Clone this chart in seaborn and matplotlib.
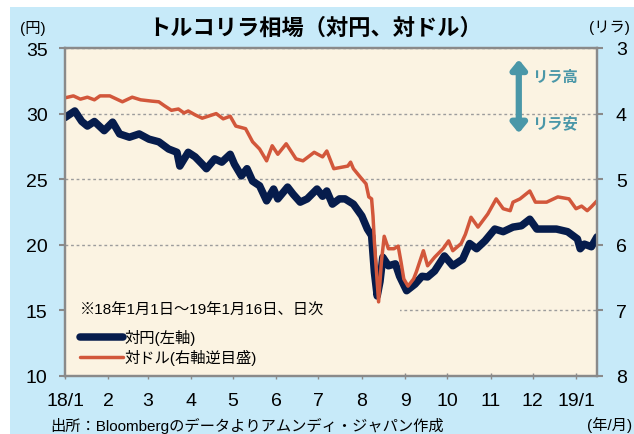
import matplotlib
matplotlib.use("Agg")
import matplotlib.pyplot as plt
from matplotlib.patches import Rectangle
from matplotlib.lines import Line2D
import pandas as pd
import seaborn as sns

# TRY/JPY (left axis)
jpy_dates = [
    "2018-01-01", "2018-01-08", "2018-01-13", "2018-01-17", "2018-01-22", "2018-01-29",
    "2018-02-04", "2018-02-09", "2018-02-16", "2018-02-23", "2018-03-02", "2018-03-09",
    "2018-03-16", "2018-03-22", "2018-03-24", "2018-03-30", "2018-04-04", "2018-04-09",
    "2018-04-12", "2018-04-18", "2018-04-23", "2018-04-29", "2018-05-02", "2018-05-07",
    "2018-05-11", "2018-05-15", "2018-05-20", "2018-05-25", "2018-05-30", "2018-06-02",
    "2018-06-09", "2018-06-13", "2018-06-18", "2018-06-23", "2018-06-30", "2018-07-04",
    "2018-07-07", "2018-07-11", "2018-07-16", "2018-07-20", "2018-07-26", "2018-08-01",
    "2018-08-05", "2018-08-08", "2018-08-10", "2018-08-12", "2018-08-14", "2018-08-16",
    "2018-08-20", "2018-08-25", "2018-08-28", "2018-09-02", "2018-09-08", "2018-09-13",
    "2018-09-17", "2018-09-22", "2018-09-29", "2018-10-05", "2018-10-12", "2018-10-17",
    "2018-10-22", "2018-10-28", "2018-11-04", "2018-11-10", "2018-11-17", "2018-11-23",
    "2018-11-29", "2018-12-04", "2018-12-11", "2018-12-18", "2018-12-26", "2019-01-02",
    "2019-01-04", "2019-01-07", "2019-01-12", "2019-01-16",
]
jpy_values = [
    29.7, 30.2, 29.4, 29.05, 29.4, 28.7,
    29.35, 28.45, 28.2, 28.45, 28.05, 27.85,
    27.3, 27.05, 26.0, 27.05, 26.7, 26.15,
    25.8, 26.55, 26.3, 26.9, 26.15, 25.25,
    25.8, 24.85, 24.5, 23.35, 24.25, 23.5,
    24.4, 23.85, 23.25, 23.5, 24.25, 23.7,
    24.1, 23.1, 23.5, 23.5, 23.1, 22.2,
    21.2, 20.7, 17.9, 16.1, 17.2, 19.05,
    18.4, 18.55, 17.6, 16.5, 17.0, 17.6,
    17.55, 18.0, 19.15, 18.4, 18.9, 20.1,
    19.7, 20.3, 21.2, 21.0, 21.35, 21.45,
    21.95, 21.2, 21.2, 21.2, 21.0, 20.45,
    19.7, 20.05, 19.85, 20.6,
]

# USD/TRY (right axis, inverted)
usd_dates = [
    "2018-01-01", "2018-01-07", "2018-01-12", "2018-01-17", "2018-01-22", "2018-01-26",
    "2018-02-02", "2018-02-08", "2018-02-11", "2018-02-18", "2018-02-24", "2018-03-04",
    "2018-03-09", "2018-03-13", "2018-03-18", "2018-03-23", "2018-03-27", "2018-03-30",
    "2018-04-04", "2018-04-09", "2018-04-19", "2018-04-24", "2018-04-29", "2018-05-03",
    "2018-05-10", "2018-05-15", "2018-05-20", "2018-05-25", "2018-05-29", "2018-06-02",
    "2018-06-08", "2018-06-15", "2018-06-20", "2018-06-28", "2018-07-04", "2018-07-07",
    "2018-07-12", "2018-07-22", "2018-07-24", "2018-07-26", "2018-07-31", "2018-08-04",
    "2018-08-06", "2018-08-08", "2018-08-09", "2018-08-10", "2018-08-13", "2018-08-15",
    "2018-08-17", "2018-08-20", "2018-08-24", "2018-08-27", "2018-08-29", "2018-08-31",
    "2018-09-03", "2018-09-07", "2018-09-09", "2018-09-14", "2018-09-17", "2018-09-22",
    "2018-09-28", "2018-10-02", "2018-10-05", "2018-10-11", "2018-10-14", "2018-10-18",
    "2018-10-23", "2018-10-30", "2018-11-05", "2018-11-10", "2018-11-15", "2018-11-17",
    "2018-11-22", "2018-11-29", "2018-12-03", "2018-12-11", "2018-12-19", "2018-12-27",
    "2019-01-01", "2019-01-05", "2019-01-09", "2019-01-12", "2019-01-16",
]
usd_values = [
    3.76, 3.73, 3.78, 3.75, 3.79, 3.73,
    3.73, 3.79, 3.82, 3.75, 3.79, 3.81,
    3.82, 3.88, 3.95, 3.93, 3.99, 3.96,
    4.02, 4.07, 4.00, 4.08, 4.04, 4.19,
    4.23, 4.43, 4.54, 4.72, 4.49, 4.62,
    4.46, 4.69, 4.72, 4.59, 4.66, 4.57,
    4.84, 4.80, 4.74, 4.84, 4.97, 5.07,
    5.27, 5.30, 5.56, 5.96, 6.87, 6.26,
    5.87, 6.06, 6.06, 6.02, 6.26, 6.52,
    6.63, 6.52, 6.41, 6.09, 6.32, 6.19,
    6.06, 5.94, 6.09, 5.98, 5.84, 5.58,
    5.73, 5.53, 5.30, 5.45, 5.48, 5.35,
    5.30, 5.18, 5.35, 5.35, 5.27, 5.30,
    5.45, 5.41, 5.48, 5.42, 5.33,
]

month_ticks = pd.date_range("2018-01-01", "2019-01-01", freq="MS")
month_labels = ["18/1", "2", "3", "4", "5", "6", "7", "8", "9", "10", "11", "12", "19/1"]

NAVY = "#061C4C"
RED = "#D2573B"
TEAL = "#4A97A8"
CREAM = "#FBF3E2"
SKY = "#C7EAF9"

sns.set_style("white")
plt.rcParams["font.family"] = ["Liberation Sans", "Noto Sans CJK JP"]
plt.rcParams["text.color"] = "black"
plt.rcParams["xtick.color"] = "black"
plt.rcParams["ytick.color"] = "black"

jpy = pd.DataFrame({"date": pd.to_datetime(jpy_dates), "value": jpy_values})
usd = pd.DataFrame({"date": pd.to_datetime(usd_dates), "value": usd_values})

fig = plt.figure(figsize=(6.34, 4.35), dpi=100, facecolor="white")
fig.patches.append(Rectangle((10 / 634, 0), 1, 427 / 435, transform=fig.transFigure,
                             facecolor=SKY, edgecolor="none", zorder=-5))
ax = fig.add_axes([65 / 634, 58 / 435, 532 / 634, 328 / 435])
ax.set_facecolor(CREAM)

sns.lineplot(data=jpy, x="date", y="value", ax=ax, color=NAVY, lw=5.4,
             solid_capstyle="round", solid_joinstyle="round", zorder=3)
ax.set_ylim(10, 35)
ax.set_yticks([10, 15, 20, 25, 30, 35])
ax.set_xlim(pd.Timestamp("2018-01-01"), pd.Timestamp("2019-01-16"))
ax.set_xticks(month_ticks)
ax.set_xticklabels(month_labels)
ax.set_xlabel("")
ax.set_ylabel("")
ax.yaxis.grid(True, ls=(0, (2, 2)), color="#9C9C9C", lw=1)
ax.xaxis.grid(False)
ax.set_axisbelow(True)

# box behind the legend hides the gridline
ax.add_patch(Rectangle((0, 0), 0.63, 0.225, transform=ax.transAxes,
                       facecolor=CREAM, edgecolor="none", zorder=1))

ax2 = ax.twinx()
sns.lineplot(data=usd, x="date", y="value", ax=ax2, color=RED, lw=2.5,
             solid_joinstyle="round")
ax2.set_ylim(8, 3)
ax2.set_yticks([3, 4, 5, 6, 7, 8])
ax2.set_ylabel("")
ax2.grid(False)

for a in (ax, ax2):
    for sp in a.spines.values():
        sp.set_color("#8A8A8A")
        sp.set_linewidth(1.6)
ax.tick_params(axis="y", direction="out", length=4.5, width=1.5, color="#8A8A8A",
               labelcolor="black", labelsize=14, pad=8, left=True)
ax.tick_params(axis="x", direction="inout", length=5, width=1, color="#8A8A8A",
               labelcolor="black", labelsize=14, pad=9, bottom=True)
ax2.tick_params(axis="y", direction="out", length=4.5, width=1.5, color="#8A8A8A",
                labelcolor="black", labelsize=14, pad=9, right=True)

# arrow showing the lira direction
ax2.annotate("", xy=(0.853, 0.965), xytext=(0.853, 0.74), xycoords="axes fraction",
             arrowprops=dict(arrowstyle="<|-|>,head_length=0.55,head_width=0.45",
                             color=TEAL, lw=4.5, shrinkA=0, shrinkB=0))
ax2.text(0.878, 0.915, "リラ高", transform=ax2.transAxes, color=TEAL,
         fontsize=11, fontweight="bold", va="center", family="Noto Sans CJK JP")
ax2.text(0.878, 0.775, "リラ安", transform=ax2.transAxes, color=TEAL,
         fontsize=11, fontweight="bold", va="center", family="Noto Sans CJK JP")

handles = [Line2D([], [], color=NAVY, lw=5.4, solid_capstyle="round"),
           Line2D([], [], color=RED, lw=2.5)]
leg = ax2.legend(handles, ["対円(左軸)", "対ドル(右軸逆目盛)"],
                 title="※18年1月1日～19年1月16日、日次", loc="lower left",
                 bbox_to_anchor=(0.008, 0.0), frameon=False, fontsize=11,
                 title_fontsize=11, handlelength=2.8, handletextpad=0.1,
                 labelspacing=0.25, alignment="left", borderaxespad=0.3)
leg._legend_box.sep = 9

fig.text(0.497, 0.936, "トルコリラ相場（対円、対ドル）", ha="center", va="center",
         fontsize=16, fontweight="bold", family="Noto Sans CJK JP")
fig.text(33 / 634, 1 - 28 / 435, "(円)", ha="center", va="center", fontsize=11)
fig.text(630 / 634, 1 - 28 / 435, "(リラ)", ha="right", va="center", fontsize=11)
fig.text(50 / 634, 1 - 426 / 435, "出所：Bloombergのデータよりアムンディ・ジャパン作成",
         ha="left", va="center", fontsize=11)
fig.text(632 / 634, 1 - 425 / 435, "(年/月)", ha="right", va="center", fontsize=11)

fig.savefig("out.png", dpi=100, facecolor=fig.get_facecolor())
